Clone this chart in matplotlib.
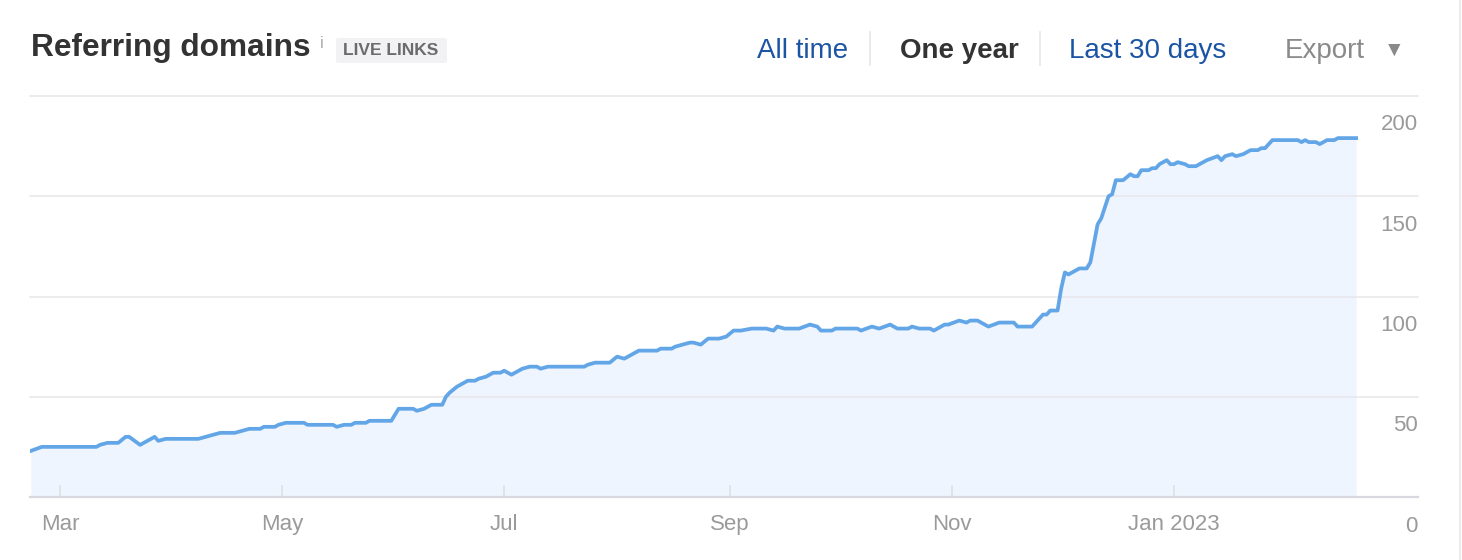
import matplotlib
matplotlib.use("Agg")
import matplotlib.pyplot as plt
import matplotlib.dates as mdates
from matplotlib.patches import FancyBboxPatch
from matplotlib.lines import Line2D
import matplotlib.transforms as mtransforms
import pandas as pd

plt.rcParams['font.family'] = ['Liberation Sans', 'DejaVu Sans']

# data (referring domains, live links, one year)
dates = [
    "2022-02-21", "2022-02-24", "2022-03-11", "2022-03-12", "2022-03-14", "2022-03-17",
    "2022-03-19", "2022-03-20", "2022-03-23", "2022-03-24", "2022-03-27", "2022-03-28",
    "2022-03-30", "2022-04-08", "2022-04-10", "2022-04-12", "2022-04-14", "2022-04-18",
    "2022-04-20", "2022-04-22", "2022-04-25", "2022-04-26", "2022-04-29", "2022-04-30",
    "2022-05-02", "2022-05-07", "2022-05-08", "2022-05-15", "2022-05-16", "2022-05-18",
    "2022-05-20", "2022-05-21", "2022-05-24", "2022-05-25", "2022-05-31", "2022-06-02",
    "2022-06-06", "2022-06-07", "2022-06-09", "2022-06-11", "2022-06-14", "2022-06-15",
    "2022-06-16", "2022-06-18", "2022-06-19", "2022-06-21", "2022-06-23", "2022-06-24",
    "2022-06-26", "2022-06-28", "2022-06-30", "2022-07-01", "2022-07-03", "2022-07-06",
    "2022-07-08", "2022-07-10", "2022-07-11", "2022-07-13", "2022-07-23", "2022-07-24",
    "2022-07-26", "2022-07-30", "2022-08-01", "2022-08-03", "2022-08-05", "2022-08-07",
    "2022-08-12", "2022-08-13", "2022-08-16", "2022-08-17", "2022-08-19", "2022-08-21",
    "2022-08-22", "2022-08-24", "2022-08-26", "2022-08-29", "2022-08-31", "2022-09-02",
    "2022-09-04", "2022-09-07", "2022-09-11", "2022-09-13", "2022-09-14", "2022-09-16",
    "2022-09-20", "2022-09-23", "2022-09-25", "2022-09-26", "2022-09-29", "2022-09-30",
    "2022-10-06", "2022-10-07", "2022-10-10", "2022-10-12", "2022-10-15", "2022-10-17",
    "2022-10-20", "2022-10-21", "2022-10-23", "2022-10-26", "2022-10-27", "2022-10-28",
    "2022-10-30", "2022-10-31", "2022-11-03", "2022-11-05", "2022-11-06", "2022-11-08",
    "2022-11-11", "2022-11-14", "2022-11-18", "2022-11-19", "2022-11-23", "2022-11-24",
    "2022-11-26", "2022-11-27", "2022-11-28", "2022-11-30", "2022-12-01", "2022-12-02",
    "2022-12-03", "2022-12-06", "2022-12-08", "2022-12-09", "2022-12-11", "2022-12-12",
    "2022-12-14", "2022-12-15", "2022-12-16", "2022-12-18", "2022-12-20", "2022-12-21",
    "2022-12-22", "2022-12-23", "2022-12-25", "2022-12-26", "2022-12-27", "2022-12-28",
    "2022-12-30", "2022-12-31", "2023-01-01", "2023-01-02", "2023-01-04", "2023-01-05",
    "2023-01-07", "2023-01-09", "2023-01-10", "2023-01-13", "2023-01-14", "2023-01-15",
    "2023-01-17", "2023-01-18", "2023-01-20", "2023-01-22", "2023-01-24", "2023-01-25",
    "2023-01-26", "2023-01-28", "2023-02-04", "2023-02-05", "2023-02-06", "2023-02-07",
    "2023-02-09", "2023-02-10", "2023-02-12", "2023-02-14", "2023-02-15", "2023-02-20",
]
domains = [
    23, 25, 25, 26, 27, 27,
    30, 30, 26, 27, 30, 28,
    29, 29, 30, 31, 32, 32,
    33, 34, 34, 35, 35, 36,
    37, 37, 36, 36, 35, 36,
    36, 37, 37, 38, 38, 44,
    44, 43, 44, 46, 46, 50,
    52, 55, 56, 58, 58, 59,
    60, 62, 62, 63, 61, 64,
    65, 65, 64, 65, 65, 66,
    67, 67, 70, 69, 71, 73,
    73, 74, 74, 75, 76, 77,
    77, 76, 79, 79, 80, 83,
    83, 84, 84, 83, 85, 84,
    84, 86, 85, 83, 83, 84,
    84, 83, 85, 84, 86, 84,
    84, 85, 84, 84, 83, 84,
    86, 86, 88, 87, 88, 88,
    85, 87, 87, 85, 85, 87,
    91, 91, 93, 93, 104, 112,
    111, 114, 114, 117, 136, 139,
    150, 151, 158, 158, 161, 160,
    160, 163, 163, 164, 164, 166,
    168, 166, 166, 167, 166, 165,
    165, 167, 168, 170, 168, 170,
    171, 170, 171, 173, 173, 174,
    174, 178, 178, 177, 178, 177,
    177, 176, 178, 178, 179, 179,
]
month_ticks = ["2022-03-01", "2022-05-01", "2022-07-01", "2022-09-01", "2022-11-01", "2023-01-01"]
y_ticks = [0, 50, 100, 150, 200]

x = pd.to_datetime(dates)

W, H = 1462, 560
fig = plt.figure(figsize=(W / 100, H / 100), dpi=100)
fig.patch.set_facecolor("white")
ax = fig.add_axes([30 / W, 63 / H, 1388 / W, 401 / H])

line_c = "#63a6e7"
ax.fill_between(x, domains, 0, color="#eff5fe", lw=0)
ax.plot(x, domains, color=line_c, lw=2.7, solid_joinstyle="round", zorder=3)

# x range: a bit before Mar and some room after the last point
start = pd.Timestamp("2022-03-01")
ax.set_xlim(mdates.date2num(start) - 8.24, mdates.date2num(start) + 373)
ax.set_ylim(0, 200)

for s in ax.spines.values():
    s.set_visible(False)
for v in y_ticks[1:]:
    ax.axhline(v, color="#e7e7eb", lw=1.1, zorder=1, clip_on=False)
ax.axhline(0, color="#d8d8e0", lw=1.6, zorder=4, clip_on=False)

ax.set_yticks([])
ax.set_xticks(pd.to_datetime(month_ticks))
ax.xaxis.set_major_formatter(plt.FuncFormatter(
    lambda v, p: mdates.num2date(v).strftime("%b %Y" if mdates.num2date(v).month == 1 else "%b")))
ax.tick_params(axis="x", direction="in", length=8.5, width=1.1, color="#dedee3",
               labelsize=16, labelcolor="#9a9a9a", pad=12)

# y labels sit under their gridlines, right aligned
off = mtransforms.ScaledTranslation(0, -29 / 100, fig.dpi_scale_trans)
for v in y_ticks:
    ax.text(1.0, v, str(v), transform=ax.get_yaxis_transform() + off,
            ha="right", va="center", fontsize=16, color="#9a9a9a")

# header
def fx(px):
    return px / W

def fy(py):
    return 1 - py / H

fig.text(fx(31), fy(56), "Referring domains", fontsize=22.8, fontweight="bold",
         color="#333333", va="baseline")
fig.text(fx(320), fy(48), "i", fontsize=12, color="#aaaaaa", va="baseline")
fig.patches.append(FancyBboxPatch((fx(336), fy(63)), fx(111), 25 / H,
                                  boxstyle="round,pad=0,rounding_size=0.003",
                                  transform=fig.transFigure, fc="#f2f1f4", ec="none"))
fig.text(fx(391), fy(50.5), "LIVE LINKS", fontsize=12.5, fontweight="bold",
         color="#6b6b6b", ha="center", va="center")

blue = "#1b54a3"
fig.text(fx(757), fy(58), "All time", fontsize=20, color=blue, va="baseline")
fig.text(fx(900), fy(58), "One year", fontsize=20, fontweight="bold",
         color="#333333", va="baseline")
fig.text(fx(1069), fy(58), "Last 30 days", fontsize=20, color=blue, va="baseline")
fig.text(fx(1285), fy(58), "Export", fontsize=20, color="#8a8a8a", va="baseline")
fig.text(fx(1394), fy(50), "\u25BC", fontsize=15, color="#8a8a8a", ha="center", va="center")
for sx in [870, 1040]:
    fig.lines.append(Line2D([fx(sx), fx(sx)], [fy(32), fy(65)], transform=fig.transFigure,
                            color="#e6e6e6", lw=1.2))
fig.lines.append(Line2D([fx(1460), fx(1460)], [0, 1], transform=fig.transFigure,
                        color="#ececec", lw=1.5))

fig.savefig("out.png", dpi=100, facecolor="white")
